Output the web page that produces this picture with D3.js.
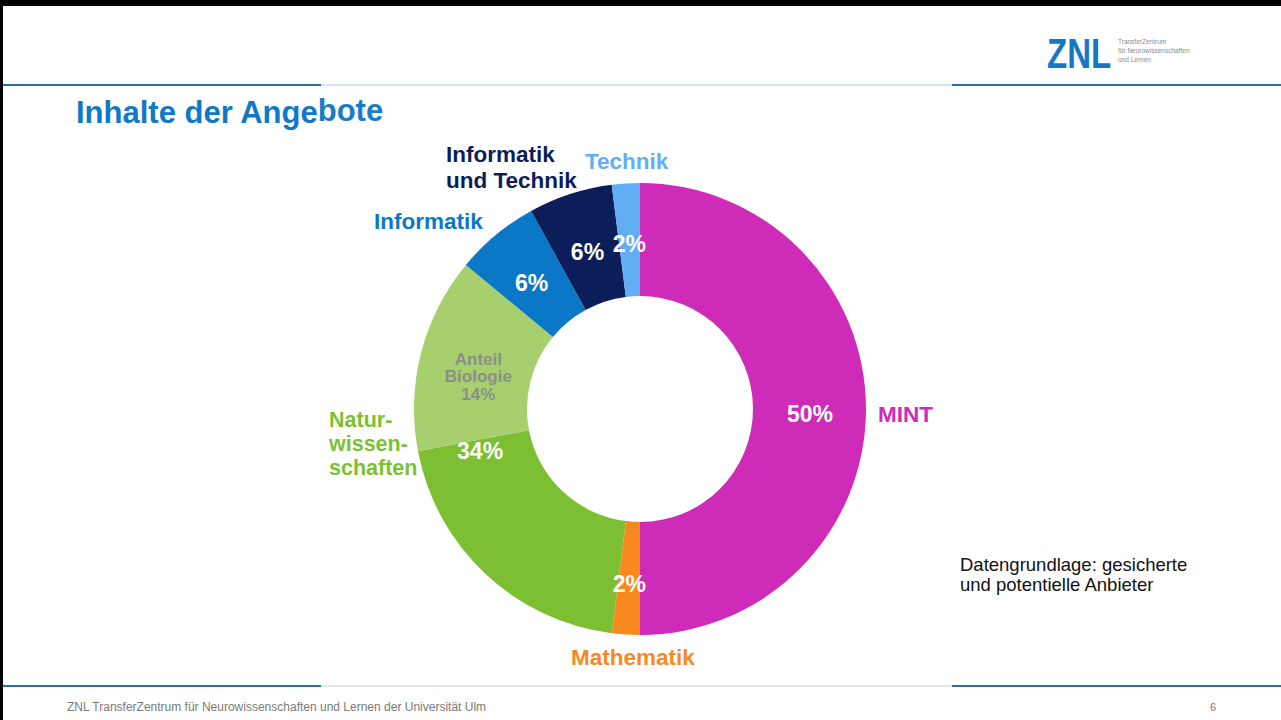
<!DOCTYPE html>
<html>
<head>
<meta charset="utf-8">
<script src="https://cdn.jsdelivr.net/npm/d3@7"></script>
<style>
  html, body { margin: 0; padding: 0; background: #fff; }
  svg { display: block; font-family: "Liberation Sans", Arial, sans-serif; }
</style>
</head>
<body>
<script>
// slices, clockwise from 12 o'clock
const categories = ["MINT", "Mathematik", "Naturwissenschaften", "Biologie", "Informatik", "Informatik und Technik", "Technik"];
const shares = [50, 2, 20, 14, 6, 6, 2];
const sliceColors = ["#cf2bb9", "#f7891f", "#7cbf33", "#a7cf6e", "#0a77c7", "#0b1e59", "#62aef4"];
const pctLabels = ["50%", "2%", "34%", "14%", "6%", "6%", "2%"];
const nameLabels = [["MINT"], ["Mathematik"], ["Natur-", "wissen-", "schaften"], ["Anteil", "Biologie"], ["Informatik"], ["Informatik", "und Technik"], ["Technik"]];
const nameColors = ["#cf2bb9", "#f7891f", "#7cbf33", "#8a8f88", "#0a77c7", "#0b1e59", "#62aef4"];

const width = 1281, height = 720;
const cx = 640, cy = 409, outerR = 226, innerR = 113;

const svg = d3.select("body")
    .append("svg")
    .attr("width", width)
    .attr("height", height);

// slide frame
svg.append("rect").attr("x", 0).attr("y", 0).attr("width", width).attr("height", 6).attr("fill", "#000");
svg.append("rect").attr("x", 0).attr("y", 0).attr("width", 3).attr("height", height).attr("fill", "#000");

// header / footer rules (blue, interrupted by the pasted chart picture)
[85, 686].forEach(function(y, i) {
    svg.append("line").attr("x1", 3).attr("x2", 321).attr("y1", y).attr("y2", y)
        .attr("stroke", "#2a6db3").attr("stroke-width", 2);
    svg.append("line").attr("x1", 321).attr("x2", 952).attr("y1", y).attr("y2", y)
        .attr("stroke", i === 0 ? "#d6e2ec" : "#e4e6ea").attr("stroke-width", 2);
    svg.append("line").attr("x1", 952).attr("x2", width).attr("y1", y).attr("y2", y)
        .attr("stroke", "#2a6db3").attr("stroke-width", 2);
});

// logo (tall, narrow letters)
svg.append("text")
    .attr("transform", "translate(1047,68) scale(1,1.27)")
    .attr("font-size", 33).attr("font-weight", "bold")
    .attr("fill", "#1877c5")
    .text("ZNL");
["TransferZentrum", "für Neurowissenschaften", "und Lernen"].forEach(function(t, i) {
    svg.append("text")
        .attr("x", 1118).attr("y", 44 + i * 9)
        .attr("font-size", 6.5).attr("fill", "#8a8a8a")
        .text(t);
});

// title
const title = svg.append("text")
    .attr("x", 76).attr("y", 123)
    .attr("font-size", 31).attr("font-weight", "bold")
    .attr("fill", "#0f78c8");
title.append("tspan").text("Inhalte der Ange");
title.append("tspan").attr("dy", -2).attr("font-size", 31).attr("fill", "#1b7bc5").text("bote");

// donut
const pie = d3.pie().sort(null).value(function(d) { return d; });
const arcs = pie(shares);
const arc = d3.arc().innerRadius(innerR).outerRadius(outerR);
const labelArc = d3.arc().innerRadius(innerR + 57).outerRadius(innerR + 57);

const g = svg.append("g").attr("transform", "translate(" + cx + "," + cy + ")");

g.selectAll("path.slice")
    .data(arcs)
    .enter()
    .append("path")
    .attr("class", "slice")
    .attr("d", arc)
    .attr("fill", function(d, i) { return sliceColors[i]; });

// percentage labels inside the ring
arcs.forEach(function(d, i) {
    if (i === 3) {
        // biology share: grey three-line note
        const c = labelArc.centroid(d);
        const t = g.append("text")
            .attr("text-anchor", "middle")
            .attr("font-size", 17).attr("font-weight", "bold")
            .attr("fill", nameColors[3]);
        nameLabels[3].concat([pctLabels[3]]).forEach(function(line, k) {
            t.append("tspan").attr("x", c[0] + 3).attr("y", c[1] - 2 + k * 17.5).text(line);
        });
        return;
    }
    let c = labelArc.centroid(d);
    let dy = 13;
    if (i === 2) {
        // 34% sits near the edge to the biology part
        const a = arcs[3].startAngle - 0.06;
        c = [Math.sin(a) * 165, -Math.cos(a) * 165];
        dy = 9;
    }
    g.append("text")
        .attr("x", c[0]).attr("y", c[1] + dy)
        .attr("text-anchor", "middle")
        .attr("font-size", 23).attr("font-weight", "bold")
        .attr("fill", "#fff")
        .text(pctLabels[i]);
});

// category names around the ring
const namePos = {
    0: {x: 878, y: 422, anchor: "start", lh: 0, fs: 22.5},
    1: {x: 633, y: 665, anchor: "middle", lh: 0, fs: 22.5},
    2: {x: 329, y: 427, anchor: "start", lh: 24, fs: 21.5},
    4: {x: 374, y: 229, anchor: "start", lh: 0, fs: 22.5},
    5: {x: 446, y: 162, anchor: "start", lh: 26, fs: 22.5},
    6: {x: 585, y: 169, anchor: "start", lh: 0, fs: 22.5}
};
Object.keys(namePos).forEach(function(k) {
    const p = namePos[k];
    const t = svg.append("text")
        .attr("text-anchor", p.anchor)
        .attr("font-size", p.fs).attr("font-weight", "bold")
        .attr("fill", nameColors[k]);
    nameLabels[k].forEach(function(line, j) {
        t.append("tspan").attr("x", p.x).attr("y", p.y + j * p.lh).text(line);
    });
});

// note
["Datengrundlage: gesicherte", "und potentielle Anbieter"].forEach(function(t, i) {
    svg.append("text")
        .attr("x", 960).attr("y", 571 + i * 20)
        .attr("font-size", 18.5).attr("fill", "#111")
        .text(t);
});

// footer
svg.append("text")
    .attr("x", 67).attr("y", 711)
    .attr("font-size", 12).attr("fill", "#7a7a7a")
    .text("ZNL TransferZentrum für Neurowissenschaften und Lernen der Universität Ulm");
svg.append("text")
    .attr("x", 1210).attr("y", 711)
    .attr("font-size", 11).attr("fill", "#7a7a7a")
    .text("6");
</script>
</body>
</html>
